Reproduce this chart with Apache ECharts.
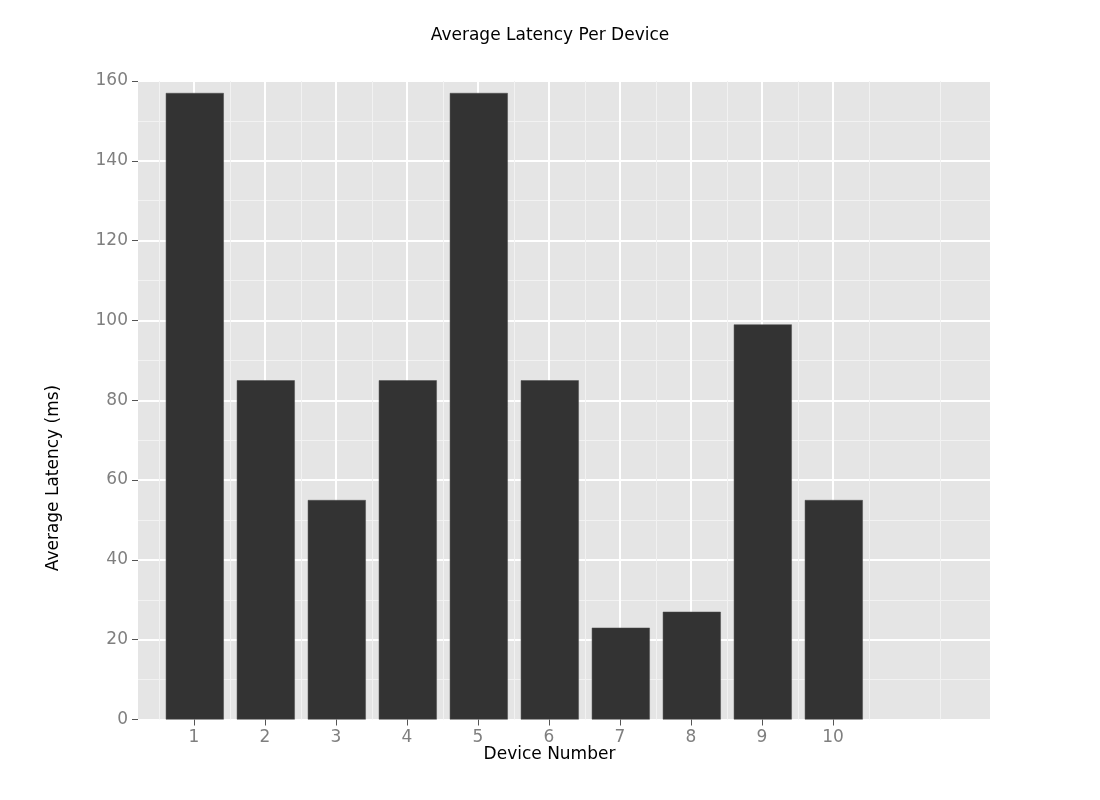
<!DOCTYPE html>
<html>
<head>
<meta charset="utf-8">
<script src="https://cdn.jsdelivr.net/npm/echarts@6/dist/echarts.min.js"></script>
<style>html,body{margin:0;padding:0;background:#fff;}#c{width:1100px;height:800px;}</style>
</head>
<body>
<div id="c"></div>
<script>
const devices = [1, 2, 3, 4, 5, 6, 7, 8, 9, 10];
const latency = [157, 85, 55, 85, 157, 85, 23, 27, 99, 55];
const yTicks = [0, 20, 40, 60, 80, 100, 120, 140, 160];
const titleText = 'Average Latency Per Device';
const xName = 'Device Number';
const yName = 'Average Latency (ms)';

const FONT = 'DejaVu Sans';
const FS = 17;
const chart = echarts.init(document.getElementById('c'), null, {renderer: 'canvas'});
const gTop = 81, gHeight = 638.5;
const hidden = {show: false};
const option = {
  animation: false,
  backgroundColor: '#ffffff',
  title: {
    text: titleText, left: 'center', top: 27, padding: 0,
    textStyle: {fontFamily: FONT, fontSize: FS, fontWeight: 'normal', color: '#000'}
  },
  grid: [
    {left: 138, top: gTop, width: 852, height: gHeight, show: true, backgroundColor: '#e5e5e5', borderWidth: 0},
    {left: 159, top: gTop, width: 781, height: gHeight, show: false},
    {left: 194, top: gTop, width: 639, height: gHeight, show: false}
  ],
  xAxis: [
    {type: 'value', gridIndex: 0, min: 0.2, max: 12.2, axisLine: hidden, axisTick: hidden, axisLabel: hidden, splitLine: hidden},
    {type: 'value', gridIndex: 1, min: 0, max: 11, interval: 1, axisLine: hidden, axisTick: hidden, axisLabel: hidden,
      splitLine: {show: true, lineStyle: {color: '#f2f2f2', width: 1}}},
    {type: 'value', gridIndex: 2, min: 1, max: 10, interval: 1, axisLine: hidden,
      axisTick: {show: true, inside: false, length: 6, lineStyle: {color: '#555', width: 1}},
      axisLabel: {show: true, margin: 10, fontFamily: FONT, fontSize: FS, color: '#7f7f7f',
        formatter: v => devices.indexOf(v) >= 0 ? String(v) : ''},
      splitLine: {show: true, lineStyle: {color: '#ffffff', width: 2}}}
  ],
  yAxis: [
    {type: 'value', gridIndex: 0, min: 0, max: 160, interval: 20, axisLine: hidden,
      axisTick: {show: true, inside: false, length: 6, lineStyle: {color: '#555', width: 1}},
      axisLabel: {show: true, margin: 10, fontFamily: FONT, fontSize: FS, color: '#7f7f7f',
        formatter: v => yTicks.indexOf(v) >= 0 ? String(v) : ''},
      splitLine: {show: true, lineStyle: {color: '#ffffff', width: 2}},
      minorTick: {show: false, splitNumber: 2},
      minorSplitLine: {show: true, lineStyle: {color: '#f2f2f2', width: 1}}},
    {type: 'value', gridIndex: 1, min: 0, max: 160, show: false, splitLine: hidden},
    {type: 'value', gridIndex: 2, min: 0, max: 160, show: false, splitLine: hidden}
  ],
  graphic: [
    {type: 'text', x: 549.5, y: 755, style: {text: xName, fontFamily: FONT, fontSize: FS, fill: '#000', align: 'center', verticalAlign: 'middle'}},
    {type: 'text', x: 54, y: 478, rotation: Math.PI / 2, style: {text: yName, fontFamily: FONT, fontSize: FS, fill: '#000', align: 'center', verticalAlign: 'middle'}}
  ],
  series: [{
    type: 'bar', xAxisIndex: 0, yAxisIndex: 0, barWidth: 58,
    itemStyle: {color: '#333333', borderColor: '#4a4a4a', borderWidth: 0.5},
    data: devices.map((d, i) => [d, latency[i]]),
    z: 5
  }]
};
chart.setOption(option);
</script>
</body>
</html>
